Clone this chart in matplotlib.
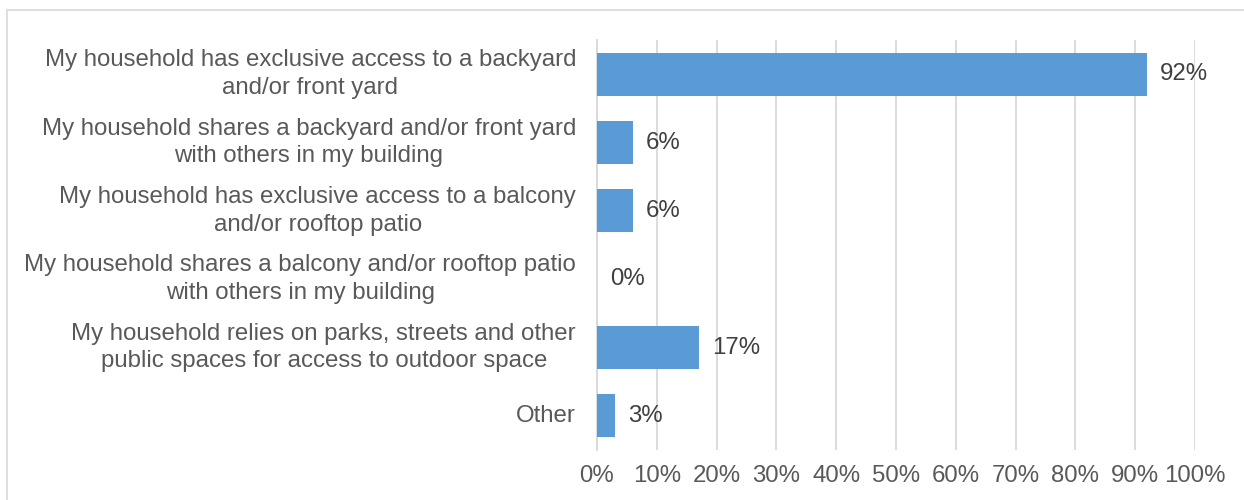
import numpy as np
import matplotlib.pyplot as plt
from matplotlib.patches import Rectangle
from matplotlib.transforms import blended_transform_factory

plt.rcParams['font.family'] = ['Liberation Sans', 'DejaVu Sans']

categories = [
    "My household has exclusive access to a backyard\nand/or front yard",
    "My household shares a backyard and/or front yard\nwith others in my building",
    "My household has exclusive access to a balcony\nand/or rooftop patio",
    "My household shares a balcony and/or rooftop patio\nwith others in my building",
    "My household relies on parks, streets and other\npublic spaces for access to outdoor space",
    "Other",
]
values = [92, 6, 6, 0, 17, 3]
ticks = list(range(0, 101, 10))

fig = plt.figure(figsize=(12.44, 5), dpi=100)
ax = fig.add_axes([0.4799, 0.1, 0.4807, 0.82])

# outer chart frame
fig.patches.append(Rectangle((7 / 1244, -0.05), 1.1, 1.03,
                             transform=fig.transFigure, fill=False,
                             edgecolor='#D9D9D9', linewidth=1.2))

y = np.arange(len(categories))
ax.barh(y, values, height=0.63, color='#5B9BD5', zorder=3)
for yi, v in zip(y, values):
    ax.text(v + 2.2, yi, "%d%%" % v, va='center', ha='left',
            fontsize=17.3, color='#404040')

# category labels, centred on their bars
trans = blended_transform_factory(ax.transAxes, ax.transData)
ax.set_yticks(y)
ax.set_yticklabels([])
for yi, cat in zip(y, categories):
    ax.text(-0.035, yi, cat, transform=trans, ha='right', va='center',
            multialignment='center', linespacing=1.35,
            fontsize=17.3, color='#595959')

ax.set_xlim(0, 100)
ax.set_ylim(len(categories) - 0.5, -0.5)
ax.set_xticks(ticks)
ax.set_xticklabels(["%d%%" % t for t in ticks], fontsize=17.3, color='#595959')
ax.tick_params(axis='both', length=0)
ax.tick_params(axis='x', pad=11)
ax.grid(axis='x', color='#D9D9D9', linewidth=1.3, zorder=0)
for s in ax.spines.values():
    s.set_visible(False)
ax.spines['left'].set_visible(True)
ax.spines['left'].set_color('#D9D9D9')
ax.spines['left'].set_linewidth(1.3)

fig.savefig("out.png", dpi=100)
